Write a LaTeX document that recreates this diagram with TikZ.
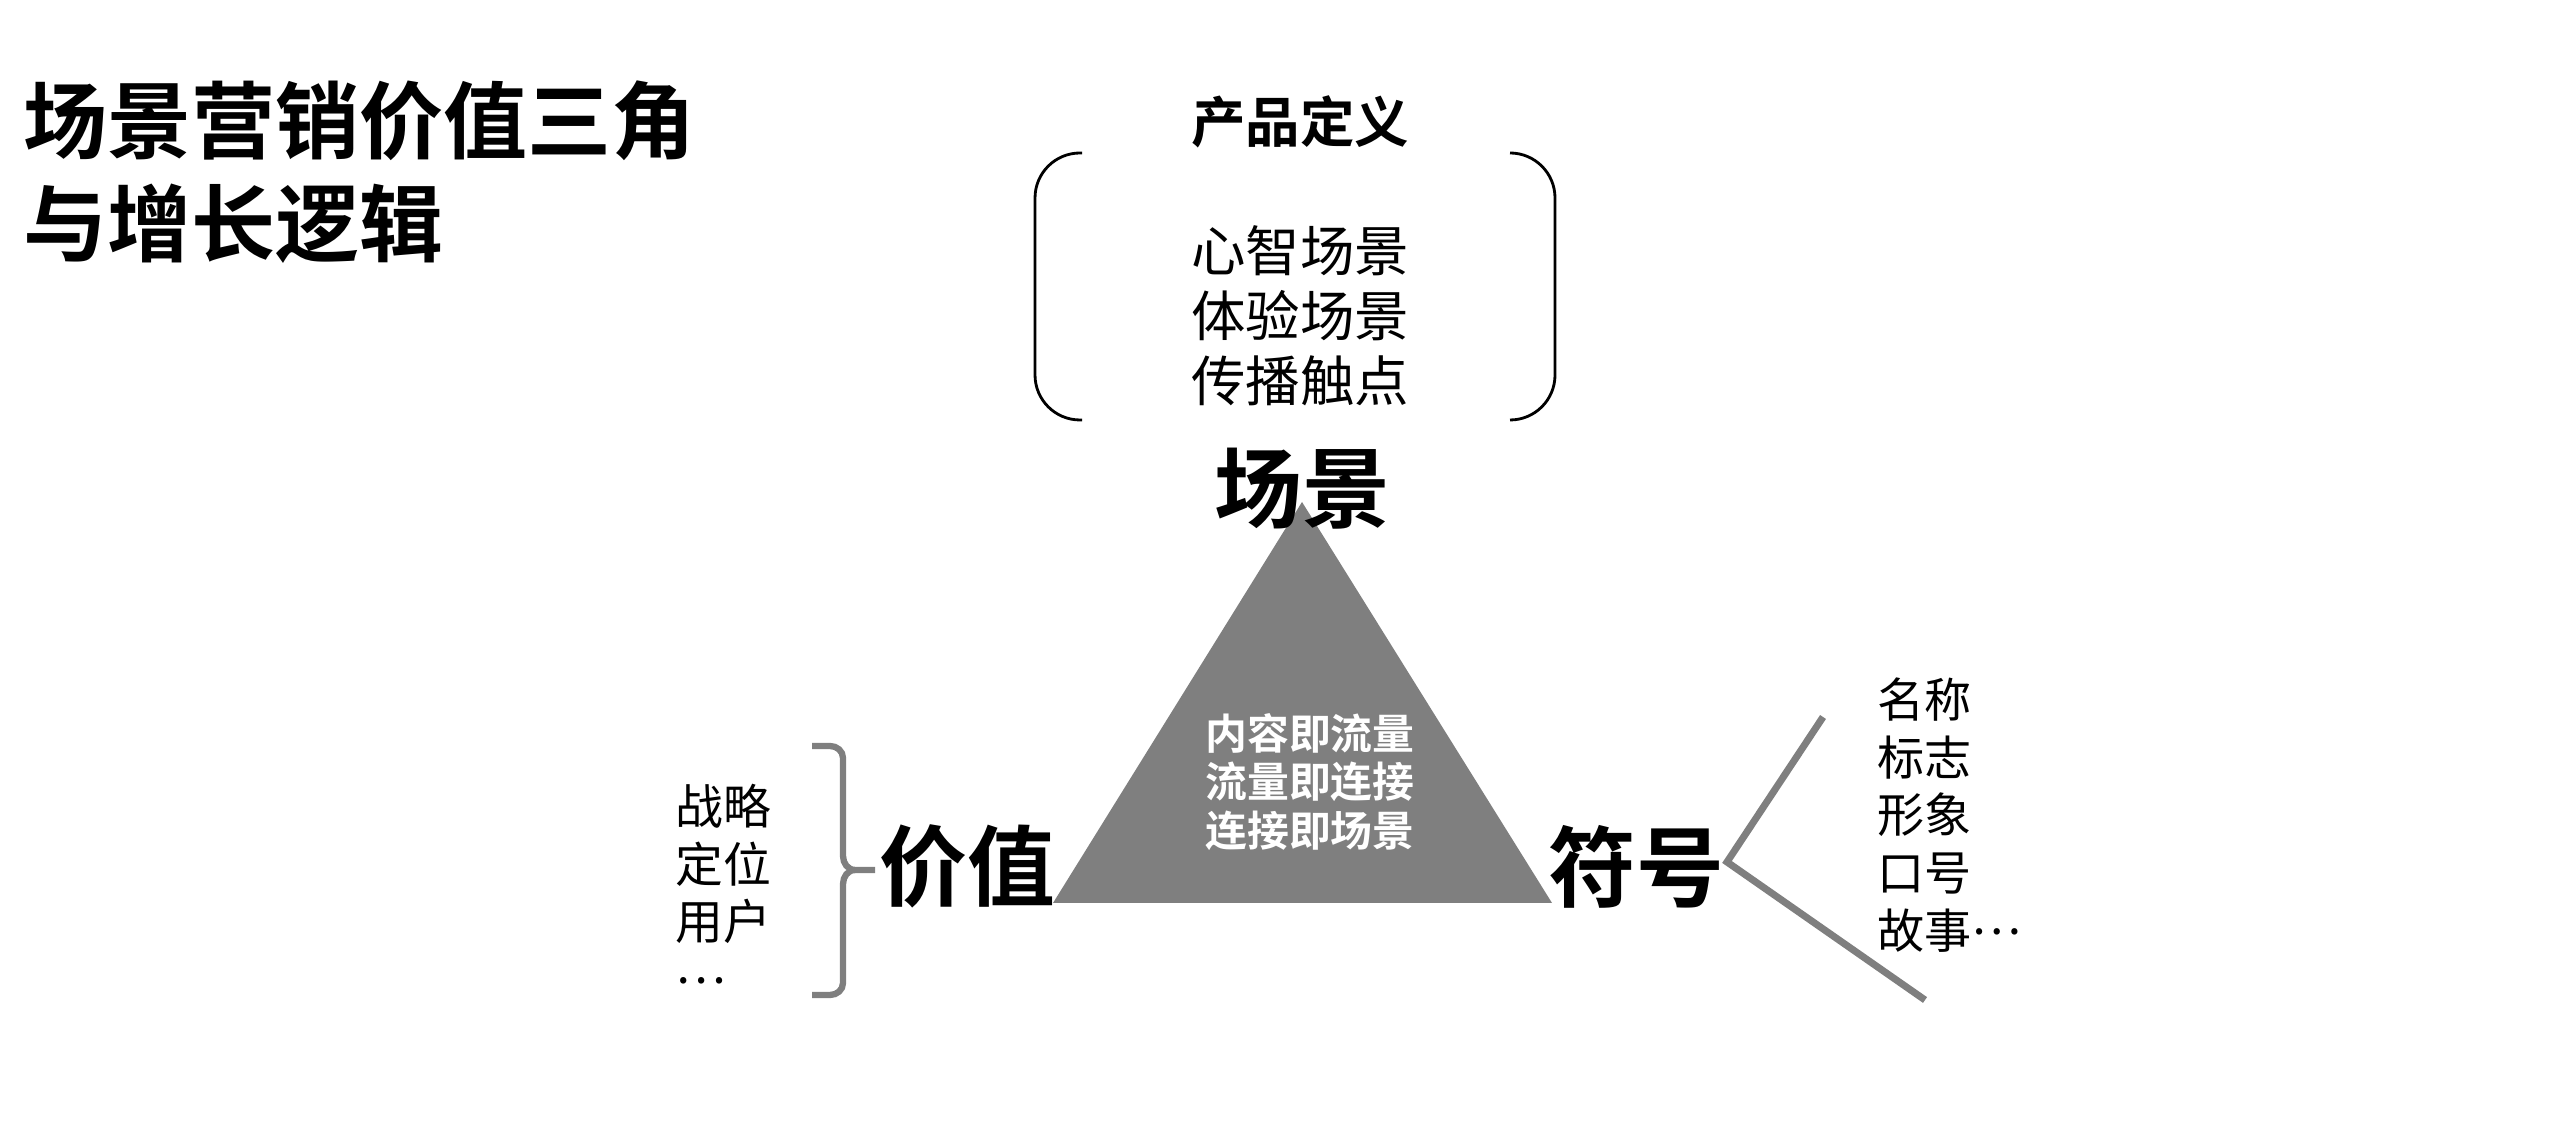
\documentclass[tikz,border=0pt]{standalone}
\usepackage{fontspec}
\setmainfont{Noto Sans CJK SC}[BoldFont={Noto Sans CJK SC Bold}]
\usetikzlibrary{calc}
\definecolor{tri}{HTML}{7F7F7F}
\newcommand{\moredots}{\raisebox{0.3em}{…}}

\begin{document}
\begin{tikzpicture}
            \tikzstyle{txt} = [inner sep=0, align=left]
            \tikzstyle{big} = [inner sep=0, font=\fontsize{25}{25}\selectfont\bfseries]
            \tikzstyle{bar} = [draw=tri, line width=1.8pt]
            \useasboundingbox (0, 0) rectangle (25.76, 11.38);
            \coordinate (top) at (13.02, 6.36);
            \coordinate (left) at (10.53, 2.35);
            \coordinate (right) at (15.52, 2.35);
            \fill[tri] (top) -- (left) -- (right) -- cycle;
            \node[txt, anchor=west, font=\fontsize{23.9}{29.3}\selectfont\bfseries] (title) at (0.23, 9.655) {场景营销价值三角\\与增长逻辑};
            \node[txt, font=\fontsize{15.5}{18.5}\selectfont\bfseries] (def) at (13.00, 10.16) {产品定义};
            \node[txt, font=\fontsize{15.5}{18.5}\selectfont] (scenes) at (13.00, 8.22) {心智场景\\体验场景\\传播触点};
            \draw[line width=0.8pt, rounded corners=0.45cm] (10.82, 9.85) -- (10.35, 9.85) -- (10.35, 7.18) -- (10.82, 7.18);
            \draw[line width=0.8pt, rounded corners=0.45cm] (15.10, 9.85) -- (15.55, 9.85) -- (15.55, 7.18) -- (15.10, 7.18);
            \node[big] (scene) at (13.02, 6.49) {场景};
            \node[big] (value) at (9.67, 2.72) {价值};
            \node[big] (symbol) at (16.36, 2.71) {符号};
            \node[txt, text=white, font=\fontsize{11.9}{13.8}\selectfont\bfseries] (flow) at (13.10, 3.56) {内容即流量\\流量即连接\\连接即场景};
            \node[txt, anchor=west, font=\fontsize{13.6}{16.4}\selectfont] (strategy) at (6.75, 2.47) {战略\\定位\\用户\\\moredots};
            \node[txt, anchor=west, font=\fontsize{13.4}{16.4}\selectfont] (names) at (18.77, 3.23) {名称\\标志\\形象\\口号\\故事\moredots};
            \coordinate (tip) at (8.75, 2.68);
            \coordinate (cusp) at (8.55, 2.68);
            \draw[bar] (8.12, 3.92) -- (8.30, 3.92) to[out=0, in=90] (8.43, 3.80) -- (8.43, 2.82) to[out=-90, in=180] (cusp) -- (tip);
            \draw[bar] (cusp) to[out=180, in=90] (8.43, 2.54) -- (8.43, 1.55) to[out=-90, in=0] (8.30, 1.43) -- (8.12, 1.43);
            \coordinate (v) at (17.27, 2.76);
            \coordinate (v1) at (18.23, 4.21);
            \coordinate (v2) at (19.25, 1.38);
            \draw[bar, line width=2pt] (v1) -- (v) -- (v2);
        \end{tikzpicture}
\end{document}
